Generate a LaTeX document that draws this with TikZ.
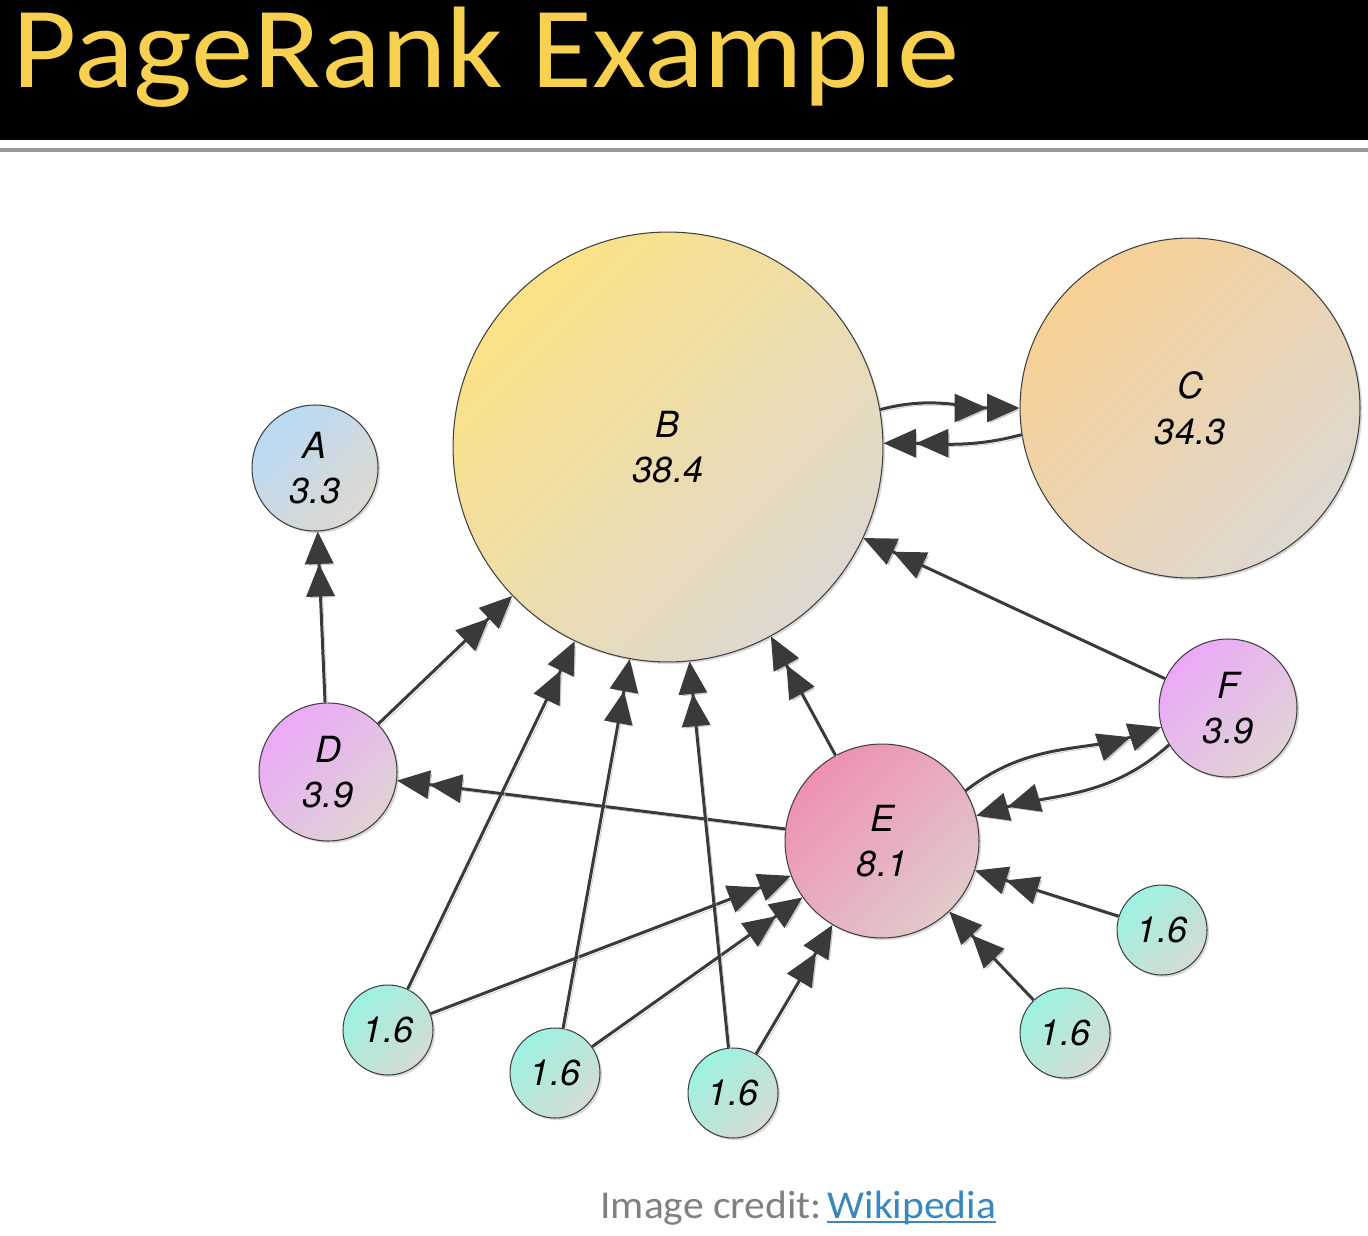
\documentclass[tikz,border=0pt]{standalone}
\usepackage{fontspec}
\setmainfont{Carlito}
\newfontfamily\labelfont{TeX Gyre Heros}
\usetikzlibrary{arrows.meta,shadows,positioning}
\definecolor{titlefg}{RGB}{246,208,78}
\definecolor{creditfg}{RGB}{128,128,128}
\definecolor{wikifg}{RGB}{58,135,188}
\definecolor{edgefg}{RGB}{58,58,58}
\definecolor{blueA}{RGB}{184,218,246}
\definecolor{yellowB}{RGB}{251,226,134}
\definecolor{orangeC}{RGB}{248,208,148}
\definecolor{violetDF}{RGB}{234,168,248}
\definecolor{pinkE}{RGB}{238,144,180}
\definecolor{cyanP}{RGB}{156,242,226}
\definecolor{greyend}{RGB}{222,216,208}
\tikzstyle{page}=[circle, draw=black!75, line width=0.6pt,
inner sep=0pt, align=center, font=\labelfont\itshape\fontsize{20.5}{26}\selectfont,
drop shadow={shadow xshift=1.2pt, shadow yshift=-1.2pt, opacity=0.3}]
\tikzstyle{link}=[draw=edgefg, line width=1.7pt,
-{Triangle[length=18.5pt,width=16pt,sep=0pt] Triangle[length=18.5pt,width=16pt]},
preaction={draw=black!22, transform canvas={xshift=1.3pt,yshift=-1.3pt}}]
\tikzstyle{pageA}=[page, top color=blueA, bottom color=greyend, shading angle=45]
\tikzstyle{pageB}=[page, top color=yellowB, bottom color=greyend, shading angle=45]
\tikzstyle{pageC}=[page, top color=orangeC, bottom color=greyend, shading angle=45]
\tikzstyle{pageDF}=[page, top color=violetDF, bottom color=greyend!90!violetDF, shading angle=45]
\tikzstyle{pageE}=[page, top color=pinkE, bottom color=greyend!80!pinkE, shading angle=45]
\tikzstyle{pageP}=[page, top color=cyanP, bottom color=greyend!85!cyanP, shading angle=45, minimum size=1.8cm]
\begin{document}
\begin{tikzpicture}[x=0.02cm, y=0.02cm]

    \useasboundingbox (0,0) rectangle (1368,-1236);

    % title bar
    \fill[black] (0,0) rectangle (1368,-140);
    \node[anchor=base west, inner sep=0pt, text=titlefg, xscale=1.075, font=\fontsize{66}{66}\selectfont] (title) at (12,-88) {PageRank Example};
    \draw[black!40, line width=2pt] (0,-150) -- (1368,-150);

    % pages
    \node[pageA, minimum size=2.52cm] (A) at (315,-468) {A\\3.3};
    \node[pageB, minimum size=8.6cm] (B) at (668,-447) {B\\38.4};
    \node[pageC, minimum size=6.8cm] (C) at (1190,-408) {C\\34.3};
    \node[pageDF, minimum size=2.76cm] (D) at (328,-772) {D\\3.9};
    \node[pageE, minimum size=3.88cm] (E) at (882,-841) {E\\8.1};
    \node[pageDF, minimum size=2.76cm] (F) at (1228,-708) {F\\3.9};
    \node[pageP] (p1) at (388,-1030) {1.6};
    \node[pageP] (p2) at (555,-1073) {1.6};
    \node[pageP] (p3) at (733,-1093) {1.6};
    \node[pageP] (p4) at (1065,-1033) {1.6};
    \node[pageP] (p5) at (1162,-930) {1.6};

    % links
    \draw[link] (D) -- (A);
    \draw[link] (D) -- (B);
    \draw[link] (E) -- (D);
    \draw[link] (E) -- (B);
    \draw[link] (F) -- (B);
    \draw[link] (B.10) to[out=15, in=180] (C.180);
    \draw[link] (C.189) to[out=195, in=0] (B.1);
    \draw[link] (E.31) to[out=38, in=198] (F.196);
    \draw[link] (F.212) to[out=222, in=16] (E.15);
    \draw[link] (p1) -- (B);
    \draw[link] (p1) -- (E);
    \draw[link] (p2) -- (B);
    \draw[link] (p2) -- (E);
    \draw[link] (p3) -- (B);
    \draw[link] (p3) -- (E);
    \draw[link] (p4) -- (E);
    \draw[link] (p5) -- (E);

    % credit
    \node[anchor=base west, inner sep=0pt, text=creditfg, xscale=1.05, font=\fontsize{22.5}{27}\selectfont] (credit) at (600,-1218) {Image credit:};
    \node[base right=3pt of credit, inner sep=0pt, text=wikifg, xscale=1.05, font=\fontsize{22.5}{27}\selectfont] (wiki) {Wikipedia};
    \draw[wikifg, line width=1.2pt] ([yshift=-2.5pt]wiki.base west) -- ([yshift=-2.5pt]wiki.base east);

\end{tikzpicture}
\end{document}
